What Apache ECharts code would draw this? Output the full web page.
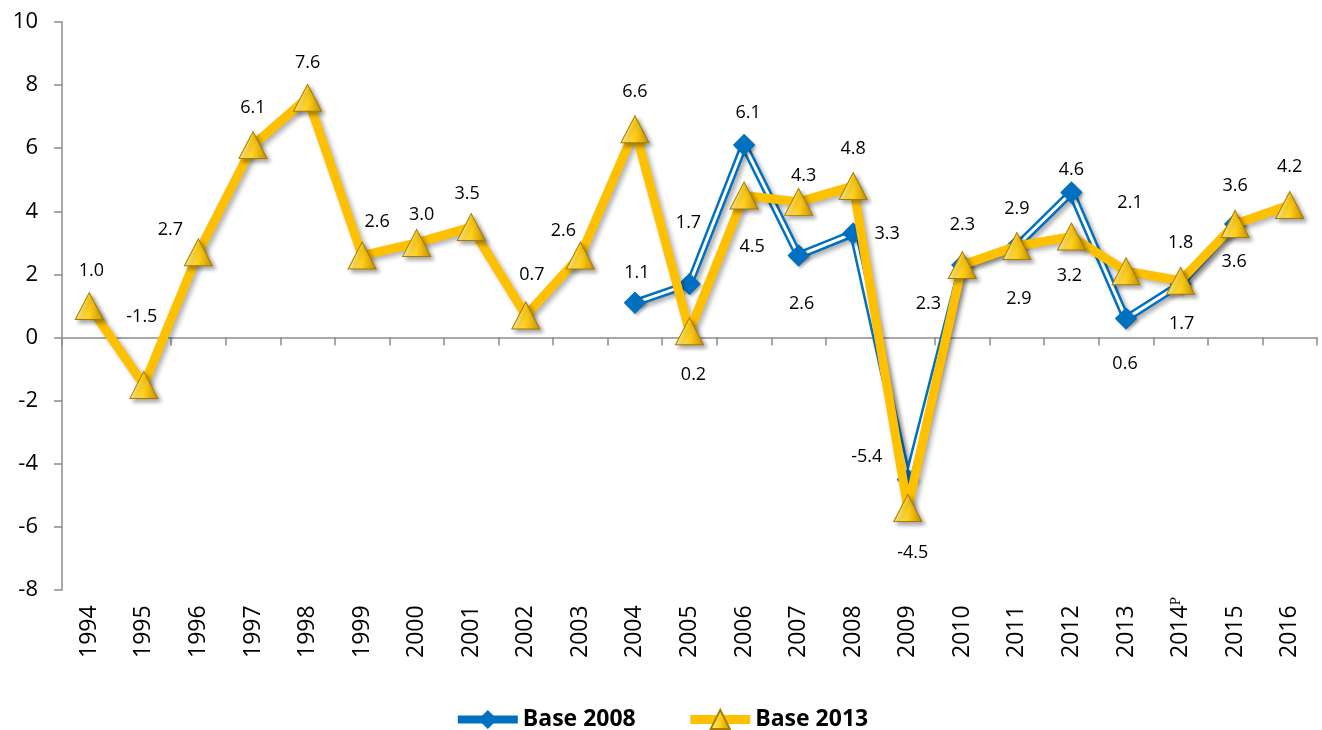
<!DOCTYPE html>
<html>
<head>
<meta charset="utf-8">
<script src="https://cdn.jsdelivr.net/npm/echarts@6/dist/echarts.min.js"></script>
<style>
html,body{margin:0;padding:0;background:#fff;}
#chart{width:1322px;height:730px;}
</style>
</head>
<body>
<div id="chart"></div>
<script>
const years = ['1994','1995','1996','1997','1998','1999','2000','2001','2002','2003','2004','2005','2006','2007','2008','2009','2010','2011','2012','2013','2014','2015','2016'];
const yearMarks = ['','','','','','','','','','','','','','','','','','','','','P','',''];
const base2013 = [1.0,-1.5,2.7,6.1,7.6,2.6,3.0,3.5,0.7,2.6,6.6,0.2,4.5,4.3,4.8,-5.4,2.3,2.9,3.2,2.1,1.8,3.6,4.2];
const base2008 = [null,null,null,null,null,null,null,null,null,null,1.1,1.7,6.1,2.6,3.3,-4.5,2.3,2.9,4.6,0.6,1.7,3.6,null];
const yTicks = {min:-8, max:10, interval:2};

// label placement (pixel offsets from marker centre)
const off2013 = [[2,-35],[-2,-68],[-28,-22],[0,-37],[0,-35],[15,-34],[5,-28],[-4,-33],[6,-41],[-17,-25],[0,-37],[4,44],[8,51],[5,-26],[0,-37],[-41,-51],[0,-40],[0,-37],[-2,39],[4,-68],[0,-38],[0,-38],[0,-38]];
const off2008 = [null,null,null,null,null,null,null,null,null,null,[2,-30],[-1,-61],[4,-32],[3,48],[34,0],[5,73],[-34,39],[2,53],[0,-23],[-1,45],[1,40],[-1,38],null];

const FONT = 'Open Sans';
const chart = echarts.init(document.getElementById('chart'), null, {renderer:'canvas'});

function withLabels(vals, offs){
  return vals.map((v,i)=> v==null ? null : {
    value: v,
    label: {show:true, position:'inside', offset: offs[i], formatter: ()=> v.toFixed(1)}
  });
}

const labelStyle = {color:'#000', fontSize:18, fontFamily:FONT};
const triGrad = new echarts.graphic.LinearGradient(0,0,1,0,[
  {offset:0,color:'#FFEB8A'},{offset:0.5,color:'#FFCF1A'},{offset:1,color:'#C99200'}
]);

const option = {
  animation:false,
  grid:{left:62, right:5, top:22, bottom:140, containLabel:false},
  legend:{
    data:[
      {name:'Base 2008', lineStyle:{width:8}},
      {name:'Base 2013', lineStyle:{width:9}}
    ],
    top:703, left:'center',
    itemWidth:60, itemHeight:24, itemGap:50,
    textStyle:{fontSize:23, fontWeight:'bold', fontFamily:FONT, color:'#000'}
  },
  xAxis:[
    {
      type:'category', data:years, position:'bottom',
      axisLine:{show:false, onZero:false}, axisTick:{show:false},
      axisLabel:{
        interval:0, rotate:90, margin:7,
        formatter:(v,i)=> yearMarks[i] ? '{n|'+v+'}{p|'+yearMarks[i]+'}' : '{n|'+v+'}{h|P}',
        rich:{
          n:{fontSize:23, fontFamily:FONT, color:'#000', lineHeight:25},
          p:{fontSize:15, fontFamily:'Liberation Serif', color:'#000', lineHeight:15, verticalAlign:'top', padding:[0,0,28,0]},
          h:{fontSize:15, fontFamily:'Liberation Serif', color:'rgba(0,0,0,0)', lineHeight:15, verticalAlign:'top', padding:[0,0,28,0]}
        }
      },
      splitLine:{show:false}
    },
    {
      type:'category', data:years, position:'top',
      axisLine:{show:true, onZero:true, lineStyle:{color:'#8c8c8c', width:1.5}},
      axisTick:{show:true, inside:true, length:8, interval:0, lineStyle:{color:'#8c8c8c', width:1.5}},
      axisLabel:{show:false}, splitLine:{show:false}
    }
  ],
  yAxis:{
    type:'value', min:yTicks.min, max:yTicks.max, interval:yTicks.interval,
    axisLine:{show:true, onZero:false, lineStyle:{color:'#8c8c8c', width:1.5}},
    axisTick:{show:true, length:8, lineStyle:{color:'#8c8c8c', width:1.5}},
    axisLabel:{fontSize:22, fontFamily:FONT, color:'#000', margin:24},
    splitLine:{show:false}
  },
  series:[
    {
      name:'Base 2008', type:'line', data:base2008, connectNulls:false,
      symbol:'diamond', symbolSize:22, showSymbol:true,
      lineStyle:{color:'#0070C0', width:8, shadowColor:'rgba(0,0,0,0.3)', shadowBlur:4, shadowOffsetX:3, shadowOffsetY:3},
      itemStyle:{color:'#0070C0'},
      emphasis:{disabled:true}, z:2
    },
    {
      name:'b2008inner', type:'line', data:withLabels(base2008, off2008), connectNulls:false,
      symbol:'diamond', symbolSize:22, showSymbol:true,
      lineStyle:{color:'#ffffff', width:3},
      itemStyle:{color:'#0070C0', shadowColor:'rgba(0,0,0,0.3)', shadowBlur:3, shadowOffsetX:2, shadowOffsetY:2},
      label:labelStyle,
      emphasis:{disabled:true}, z:3
    },
    {
      name:'Base 2013', type:'line', data:withLabels(base2013, off2013),
      symbol:'triangle', symbolSize:[28,27], showSymbol:true,
      lineStyle:{color:'#FFC000', width:9, shadowColor:'rgba(0,0,0,0.3)', shadowBlur:5, shadowOffsetX:3, shadowOffsetY:3},
      itemStyle:{color:triGrad, borderColor:'#A87C00', borderWidth:1, shadowColor:'rgba(0,0,0,0.35)', shadowBlur:4, shadowOffsetX:3, shadowOffsetY:3},
      label:labelStyle,
      emphasis:{disabled:true}, z:4
    }
  ]
};
chart.setOption(option);
</script>
</body>
</html>
